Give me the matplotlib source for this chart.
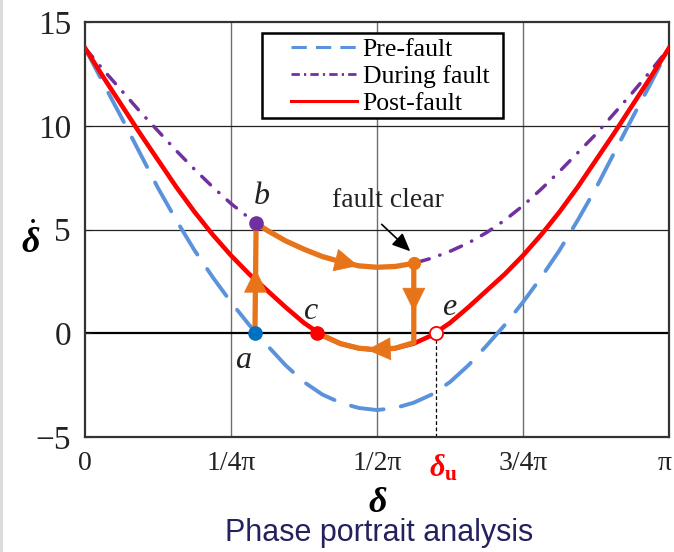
import matplotlib
matplotlib.use('Agg')
import matplotlib.pyplot as plt
import matplotlib.transforms as mtransforms
import numpy as np

plt.rcParams['font.family'] = ['Liberation Serif', 'DejaVu Serif']
plt.rcParams['mathtext.fontset'] = 'custom'
plt.rcParams['mathtext.rm'] = 'Liberation Serif'
plt.rcParams['mathtext.it'] = 'Liberation Serif:italic'
plt.rcParams['mathtext.bf'] = 'Liberation Serif:bold'
plt.rcParams['mathtext.bfit'] = 'Liberation Serif:bold:italic'

# rotor angle as a fraction of pi
delta_frac = [0, 0.03125, 0.0625, 0.09375, 0.125, 0.15625, 0.1875, 0.21875,
              0.25, 0.28125, 0.3125, 0.34375, 0.375, 0.40625, 0.4375, 0.46875,
              0.5, 0.53125, 0.5625, 0.59375, 0.625, 0.65625, 0.6875, 0.71875,
              0.75, 0.78125, 0.8125, 0.84375, 0.875, 0.90625, 0.9375, 0.96875,
              1.0]
pre_fault = [13.75, 12.05, 10.4, 8.7, 7.0, 5.45, 4.0, 2.7,
             1.5, 0.4, -0.6, -1.55, -2.35, -2.95, -3.35, -3.6,
             -3.7, -3.6, -3.35, -2.95, -2.35, -1.55, -0.6, 0.4,
             1.5, 2.7, 4.0, 5.45, 7.0, 8.7, 10.4, 12.05,
             13.75]
during_fault = [13.75, 12.7, 11.7, 10.7, 9.75, 8.8, 7.9, 7.05,
                6.25, 5.55, 4.95, 4.45, 4.05, 3.7, 3.45, 3.25,
                3.18, 3.22, 3.37, 3.62, 3.95, 4.35, 4.85, 5.45,
                6.15, 6.95, 7.8, 8.7, 9.6, 10.6, 11.6, 12.65,
                13.75]
post_fault = [13.75, 12.35, 11.0, 9.65, 8.35, 7.05, 5.85, 4.75,
              3.75, 2.85, 2.05, 1.25, 0.5, -0.1, -0.5, -0.72,
              -0.8, -0.72, -0.5, -0.1, 0.5, 1.25, 2.05, 2.85,
              3.75, 4.75, 5.85, 7.05, 8.35, 9.65, 11.0, 12.35,
              13.75]

# trajectory a -> b -> fault clear -> c
traj_frac = [0.291, 0.293, 0.3125, 0.34375, 0.375, 0.40625, 0.4375, 0.46875,
             0.5, 0.53125, 0.563, 0.563, 0.53125, 0.5, 0.46875, 0.4375,
             0.40625, 0.397]
traj_val = [0.0, 5.3, 4.95, 4.45, 4.05, 3.7, 3.45, 3.25,
            3.18, 3.22, 3.37, -0.45, -0.72, -0.8, -0.72, -0.5,
            -0.1, 0.0]

# marked states
pt_a = (0.291, 0.0)
pt_b = (0.293, 5.3)
pt_c = (0.397, 0.0)
pt_e = (0.601, 0.0)
pt_clear = (0.563, 3.37)

xtick_frac = [0, 0.25, 0.5, 0.75, 1.0]
xtick_labels = ['0', '1/4π', '1/2π', '3/4π', 'π']
ytick_vals = [-5, 0, 5, 10, 15]
ytick_labels = ['\u22125', '0', '5', '10', '15']
legend_labels = ['Pre-fault', 'During fault', 'Post-fault']

blue = '#5A92DC'
purple = '#7030A0'
red = '#FF0000'
orange = '#E8741A'

d = np.array(delta_frac) * np.pi

fig = plt.figure(figsize=(6.74, 5.52), dpi=100)
ax = fig.add_axes([0.1261, 0.2083, 0.8665, 0.7518])

# grid
for xf in xtick_frac[1:-1]:
    ax.axvline(xf * np.pi, color='#6e6e6e', lw=1.0, zorder=0)
for yv in [5, 10]:
    ax.axhline(yv, color='#222222', lw=0.9, zorder=0)
ax.axhline(0, color='black', lw=1.6, zorder=0)

ax.plot(d, pre_fault, color=blue, lw=2.8, dashes=(8.5, 4.5),
        dash_capstyle='round', zorder=2)
ax.plot(d, during_fault, color=purple, lw=2.5, dashes=(3.5, 3.2, 0.1, 3.2),
        dash_capstyle='round', zorder=2)
ax.plot(d, post_fault, color=red, lw=3.3, zorder=3)

td = np.array(traj_frac) * np.pi
ax.plot(td, traj_val, color=orange, lw=3.8, solid_joinstyle='round', zorder=4)

# direction arrows along the trajectory
arrows = [((0.292, 1.9), (0.292, 3.1)),
          ((0.43, 3.52), (0.468, 3.25)),
          ((0.563, 2.4), (0.563, 1.05)),
          ((0.53, -0.74), (0.483, -0.80))]
for tail, tip in arrows:
    ax.annotate('', xy=(tip[0] * np.pi, tip[1]),
                xytext=(tail[0] * np.pi, tail[1]),
                arrowprops=dict(arrowstyle='-|>,head_length=0.45,head_width=0.22',
                                color=orange, lw=0.5, mutation_scale=36,
                                shrinkA=0, shrinkB=0),
                zorder=5)

ax.plot(pt_a[0] * np.pi, pt_a[1], 'o', color='#0070C0', ms=9.5, zorder=6)
ax.plot(pt_b[0] * np.pi, pt_b[1], 'o', color=purple, ms=9.5, zorder=6)
ax.plot(pt_c[0] * np.pi, pt_c[1], 'o', color=red, ms=9.5, zorder=6)
ax.plot(pt_e[0] * np.pi, pt_e[1], 'o', mfc='white', mec=red, mew=1.3,
        ms=9.5, zorder=6)
ax.plot(pt_clear[0] * np.pi, pt_clear[1], 'o', color=orange, ms=8.5, zorder=6)

# unstable equilibrium marker line
ax.plot([pt_e[0] * np.pi] * 2, [-5, pt_e[1]], color='black', lw=0.9,
        dashes=(3, 2), zorder=1)

lbl = dict(fontsize=23, style='italic', color='#222222')
ax.text(0.271 * np.pi, -1.3, 'a', ha='center', va='center', **lbl)
ax.text(0.303 * np.pi, 6.6, 'b', ha='center', va='center', **lbl)
ax.text(0.386 * np.pi, 1.05, 'c', ha='center', va='center', **lbl)
ax.text(0.623 * np.pi, 1.25, 'e', ha='center', va='center', **lbl)

ax.text(0.519 * np.pi, 6.4, 'fault clear', ha='center', va='center',
        fontsize=20, color='#222222')
ax.annotate('', xy=(0.557 * np.pi, 3.95), xytext=(0.508 * np.pi, 5.25),
            arrowprops=dict(arrowstyle='-|>,head_length=0.5,head_width=0.22',
                            color='black', lw=1.2, mutation_scale=22,
                            shrinkA=0, shrinkB=0))

ax.set_xlim(0, np.pi)
ax.set_ylim(-5, 15)
ax.set_xticks(np.array(xtick_frac) * np.pi)
ax.set_xticklabels(xtick_labels)
ax.set_yticks(ytick_vals)
ax.set_yticklabels(ytick_labels)
ax.tick_params(axis='x', labelsize=20, direction='in', length=0, pad=10,
               colors='#222222')
ax.tick_params(axis='y', labelsize=24, direction='in', length=4, pad=10,
               colors='#222222')
# nudge the pi label so it stays inside the figure
last = ax.get_xticklabels()[-1]
last.set_transform(last.get_transform() +
                   mtransforms.ScaledTranslation(-4 / 100, 0, fig.dpi_scale_trans))
for sp in ax.spines.values():
    sp.set_linewidth(1.6)
    sp.set_color('#333333')

ax.text(pt_e[0] * np.pi + 0.04, -5.75, r'$\mathbfit{\delta}_{\mathbf{u}}$',
        ha='center', va='top', fontsize=22, color=red)

fig.text(0.561, 0.088, r'$\mathbfit{\delta}$', ha='center', va='center',
         fontsize=26)
fig.text(0.045, 0.562, r'$\dot{\mathbfit{\delta}}$', ha='center',
         va='center', fontsize=26)

# legend drawn without its own frame; the box is a separate rectangle
leg_handles = [
    plt.Line2D([], [], color=blue, lw=2.2, dashes=(5, 3)),
    plt.Line2D([], [], color=purple, lw=2.0, dashes=(3, 1.5, 0.8, 1.5)),
    plt.Line2D([], [], color=red, lw=2.2),
]
leg = ax.legend(leg_handles, legend_labels,
                loc='upper left', bbox_to_anchor=(0.352, 0.962),
                fontsize=18.5, handlelength=2.6, handletextpad=0.2,
                labelspacing=0.16, borderpad=0.0, borderaxespad=0,
                frameon=False)
ax.add_patch(plt.Rectangle((0.303, 0.768), 0.413, 0.205,
                           transform=ax.transAxes, fill=True, fc='white',
                           ec='black', lw=1.8, zorder=4.5))
leg.set_zorder(6)

fig.text(0.563, 0.035, 'Phase portrait analysis', ha='center', va='center',
         fontsize=22, family='Liberation Sans', color='#24225E')

# thin grey strip along the left edge
fig.add_artist(plt.Rectangle((0, 0), 0.005, 1, transform=fig.transFigure,
                             color='#dcdcdc', lw=0))

fig.savefig('out.png', dpi=100)
